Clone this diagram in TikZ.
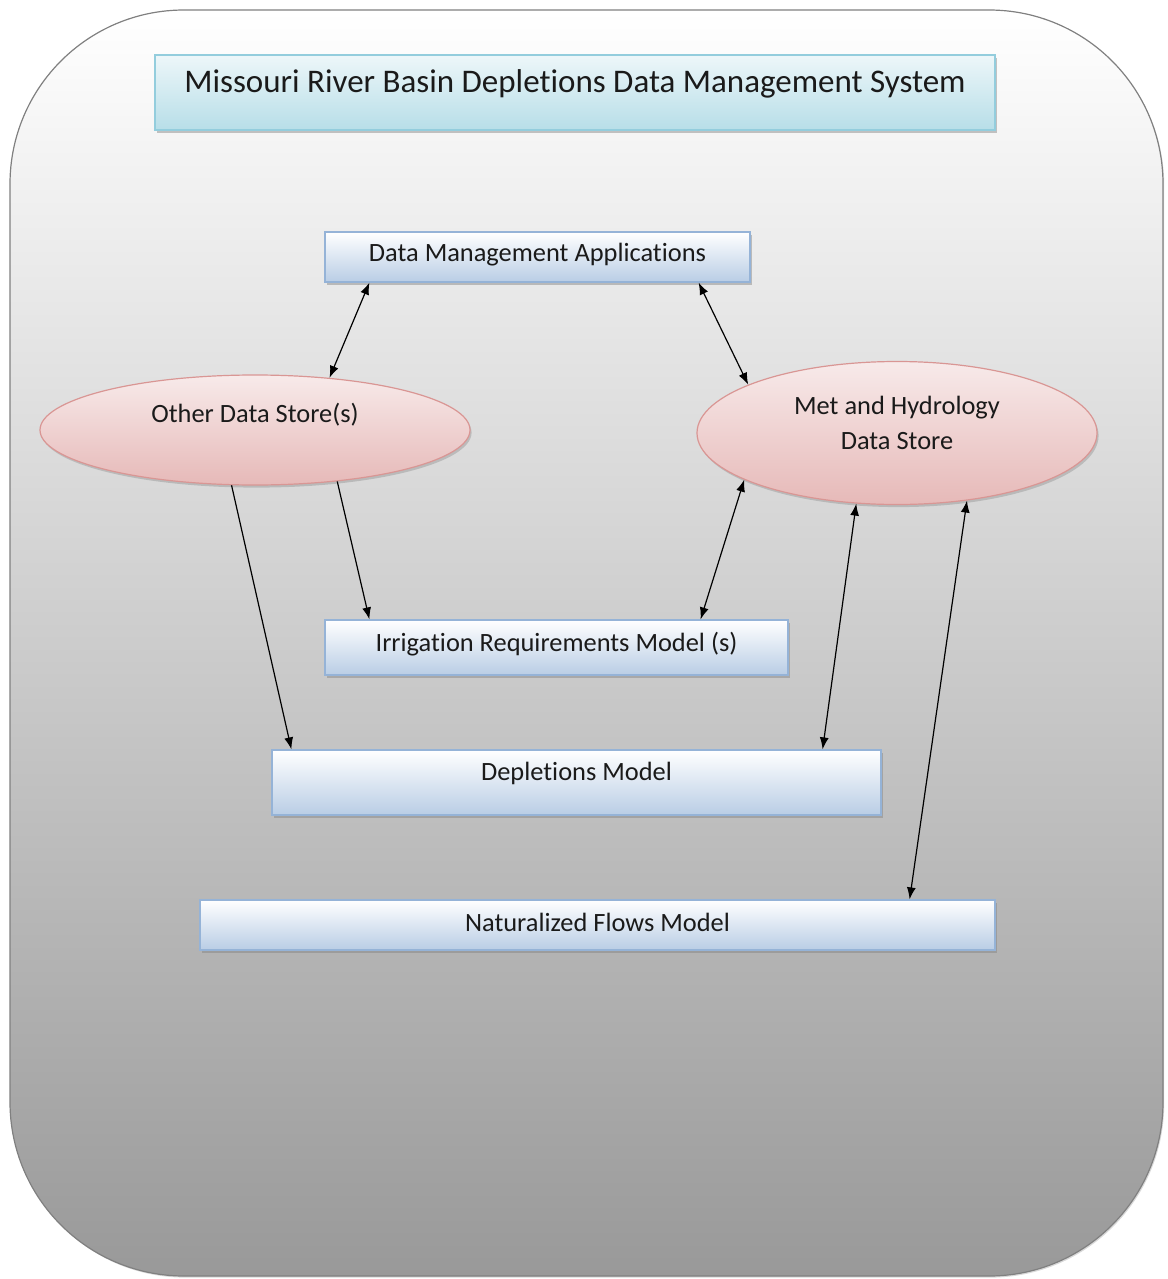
\documentclass[tikz,border=0pt]{standalone}
\usepackage{fontspec}
\setmainfont{Carlito}[Ligatures=NoCommon]
\usetikzlibrary{arrows.meta,shadows,shapes.geometric,calc}

\definecolor{boxblue}{HTML}{B9CDE5}
\definecolor{boxline}{HTML}{95B3D7}
\definecolor{titlecyan}{HTML}{B7DEE8}
\definecolor{titleline}{HTML}{93CDDD}
\definecolor{storepink}{HTML}{E6B9B8}
\definecolor{storeline}{HTML}{D99694}
\definecolor{txt}{HTML}{1A1A1A}

\tikzset{
  every label/.style={font=\fontsize{13.2}{17.5}\selectfont, text=txt, align=center, inner sep=0pt},
  box/.style={rectangle, draw=boxline, line width=0.6pt, inner sep=0pt,
    top color=white, bottom color=boxblue,
    drop shadow={shadow xshift=0.8pt, shadow yshift=-1.3pt, opacity=0.45}},
  titlebox/.style={box, draw=titleline, top color=titlecyan!25, bottom color=titlecyan},
  store/.style={ellipse, draw=storeline, line width=0.6pt, inner sep=0pt,
    top color=storepink!30, bottom color=storepink,
    drop shadow={shadow xshift=0.8pt, shadow yshift=-1.3pt, opacity=0.35}},
  link/.style={line width=0.6pt, {Latex[length=6pt,width=4.5pt]}-{Latex[length=6pt,width=4.5pt]}},
  feed/.style={line width=0.6pt, -{Latex[length=6pt,width=4.5pt]}}
}

\begin{document}
\begin{tikzpicture}[x=0.5pt,y=-0.5pt]
\useasboundingbox (0,0) rectangle (1167,1279);
% background panel
\draw[draw=black!50, line width=0.6pt, rounded corners=87pt, top color=white, bottom color=black!40,
  drop shadow={shadow xshift=0.6pt, shadow yshift=-0.8pt, opacity=0.3}] (10,10) rectangle (1163,1276);

\node[titlebox, minimum width=420pt, minimum height=37.5pt,
  label={[yshift=4.5pt, font=\fontsize{16.5}{20}\selectfont]center:Missouri River Basin Depletions Data Management System}] (title) at (575,92.5) {};

\node[box, minimum width=212.5pt, minimum height=25pt,
  label={[yshift=1pt]center:Data Management Applications}] (dma) at (537.5,257) {};

\node[store, minimum width=215pt, minimum height=55pt,
  label={[yshift=7.5pt]center:Other Data Store(s)}] (other) at (255,430) {};
\node[store, minimum width=200pt, minimum height=71.5pt,
  label={[yshift=5pt]center:Met and Hydrology\\Data Store}] (met) at (897,433) {};

\node[box, minimum width=231.5pt, minimum height=27.5pt,
  label={[yshift=1.75pt]center:Irrigation Requirements Model (s)}] (irr) at (556.5,647.5) {};
\node[box, minimum width=304.5pt, minimum height=32.5pt,
  label={[yshift=4.75pt]center:Depletions Model}] (dep) at (576.5,782.5) {};
\node[box, minimum width=397.5pt, minimum height=25pt,
  label={[yshift=1.5pt]center:Naturalized Flows Model}] (nat) at (597.5,925) {};

% connectors
\draw[link] ($(dma.south west)+(45,0)$) -- (other.35);
\draw[link] ($(dma.south east)+(-52,0)$) -- (met.162);
\draw[feed] (other.-32) -- ($(irr.north west)+(45,0)$);
\draw[feed] (other.-113) -- ($(dep.north west)+(20,0)$);
\draw[link] (met.197) -- ($(irr.north east)+(-88,0)$);
\draw[link] (met.-120) -- ($(dep.north east)+(-59,0)$);
\draw[link] (met.-44) -- ($(nat.north east)+(-86,0)$);
\end{tikzpicture}
\end{document}
